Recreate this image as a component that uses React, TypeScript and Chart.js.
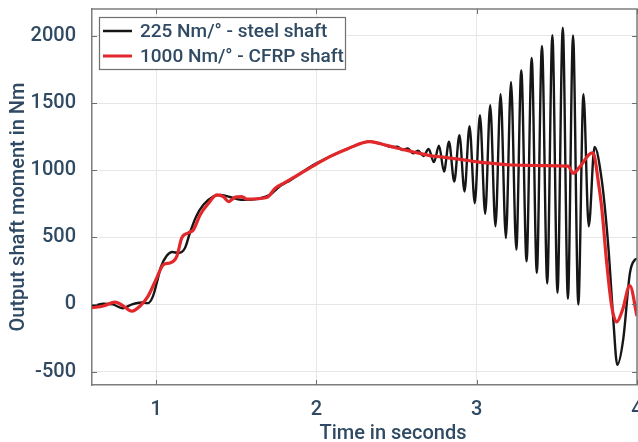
import React, { useEffect, useRef } from "react";
import { Chart, registerables } from "chart.js";

Chart.register(...registerables);

// ---- data (time in s, moment in Nm) ----
const steelT = [
  0.6, 0.67, 0.73, 0.79, 0.85, 0.91, 0.95, 0.98, 1.004, 1.03, 1.065, 1.1, 1.14, 1.18, 1.21, 1.25,
  1.295, 1.356, 1.4, 1.46, 1.53, 1.65, 1.71, 1.77, 1.84, 1.98, 2.1, 2.2, 2.33, 2.4, 2.47,
  2.505, 2.538, 2.57, 2.603, 2.634, 2.668, 2.7, 2.733, 2.765, 2.796, 2.827, 2.86, 2.892, 2.924,
  2.955, 2.988, 3.02, 3.053, 3.084, 3.117, 3.149, 3.182, 3.214, 3.247, 3.278, 3.311, 3.343,
  3.375, 3.407, 3.44, 3.472, 3.504, 3.537, 3.569, 3.601, 3.634, 3.666, 3.699, 3.735, 3.78,
  3.821, 3.852, 3.877, 3.914, 3.956, 3.988, 4.0,
];
const steelNm = [
  -15, 5, 0, -28, 0, 14, 10, 60, 160, 280, 360, 390, 383, 420, 530, 655,
  742, 803, 816, 800, 780, 791, 816, 878, 927, 1038, 1110, 1162, 1212, 1197, 1172,
  1175, 1150, 1162, 1125, 1145, 1105, 1157, 1060, 1182, 989, 1211, 915, 1261, 841,
  1328, 754, 1409, 675, 1484, 581, 1565, 495, 1656, 408, 1743, 321, 1835,
  235, 1924, 156, 2005, 87, 2060, 42, 2003, 0, 1565, 581, 1172, 927,
  432, -111, -450, -260, 235, 334, 340,
];
const cfrpT = [
  0.6, 0.67, 0.744, 0.796, 0.848, 0.9, 0.95, 1.004, 1.046, 1.087, 1.129, 1.16, 1.2, 1.233, 1.275,
  1.327, 1.379, 1.42, 1.452, 1.494, 1.535, 1.566, 1.69, 1.743, 1.8, 1.9, 2.0, 2.1, 2.2, 2.33,
  2.4, 2.5, 2.6, 2.7, 2.8, 2.9, 3.0, 3.1, 3.2, 3.3, 3.4, 3.5, 3.57, 3.603, 3.64, 3.72, 3.735,
  3.76, 3.78, 3.811, 3.842, 3.873, 3.91, 3.955, 4.0,
];
const cfrpNm = [
  -25, -12, 17, -12, -50, -12, 62, 198, 297, 309, 358, 495, 532, 556, 668,
  754, 816, 803, 766, 799, 803, 784, 796, 865, 905, 975, 1045, 1110, 1162, 1212,
  1197, 1165, 1137, 1110, 1095, 1080, 1062, 1050, 1040, 1036, 1034, 1032, 1030, 977, 1020, 1128, 1100,
  900, 720, 309, -12, -131, -40, 141, -87,
];
const seriesLabels = ["225 Nm/° - steel shaft", "1000 Nm/° - CFRP shaft"];
const seriesColors = ["#161616", "#e3282b"];
const xTicks = [1, 2, 3, 4];
const yTicks = [-500, 0, 500, 1000, 1500, 2000];
const xTitle = "Time in seconds";
const yTitle = "Output shaft moment in Nm";

const TEXT = "#2f4a62";
const FONT = "Roboto, 'DejaVu Sans', sans-serif";

const framePlugin = {
  id: "frame",
  afterDatasetsDraw(chart: any) {
    const { ctx, chartArea: a, scales } = chart;
    ctx.save();
    // top + right border
    ctx.strokeStyle = "#7d7d7d";
    ctx.lineWidth = 1.5;
    ctx.beginPath();
    ctx.moveTo(a.left, a.top);
    ctx.lineTo(a.right, a.top);
    ctx.lineTo(a.right, a.bottom);
    ctx.stroke();
    // inward ticks
    ctx.lineWidth = 1;
    ctx.strokeStyle = "#6d6d6d";
    ctx.beginPath();
    for (const v of xTicks) {
      const px = Math.round(scales.x.getPixelForValue(v)) + 0.5;
      ctx.moveTo(px, a.bottom);
      ctx.lineTo(px, a.bottom - 5);
      ctx.moveTo(px, a.top);
      ctx.lineTo(px, a.top + 5);
    }
    for (const v of yTicks) {
      const py = Math.round(scales.y.getPixelForValue(v)) + 0.5;
      ctx.moveTo(a.left, py);
      ctx.lineTo(a.left + 5, py);
      ctx.moveTo(a.right, py);
      ctx.lineTo(a.right - 5, py);
    }
    ctx.stroke();

    // legend
    const bx = 99, by = 17, bw = 246, bh = 52;
    ctx.fillStyle = "#ffffff";
    ctx.fillRect(bx, by, bw, bh);
    ctx.strokeStyle = "#6f6f6f";
    ctx.lineWidth = 1.2;
    ctx.strokeRect(bx + 0.5, by + 0.5, bw, bh);
    chart.data.datasets.forEach((ds: any, i: number) => {
      const cy = by + 14 + i * 25;
      ctx.strokeStyle = ds.borderColor;
      ctx.lineWidth = i === 0 ? 2.5 : 3;
      ctx.beginPath();
      ctx.moveTo(bx + 4, cy);
      ctx.lineTo(bx + 33, cy);
      ctx.stroke();
      ctx.fillStyle = TEXT;
      ctx.font = `500 19px ${FONT}`;
      ctx.textBaseline = "middle";
      ctx.textAlign = "left";
      ctx.fillText(ds.label, bx + 41, cy + 1);
    });
    ctx.restore();
  },
  afterDraw(chart: any) {
    const { ctx } = chart;
    ctx.save();
    ctx.fillStyle = TEXT;
    ctx.font = `500 20px ${FONT}`;
    ctx.textAlign = "center";
    ctx.textBaseline = "alphabetic";
    ctx.fillText(xTitle, 393, 439);
    ctx.translate(19, 207);
    ctx.rotate(-Math.PI / 2);
    ctx.textBaseline = "middle";
    ctx.font = `500 20px ${FONT}`;
    ctx.fillText(yTitle, 0, 0);
    ctx.restore();
  },
};

export default function App() {
  const ref = useRef<HTMLCanvasElement>(null);
  useEffect(() => {
    if (!ref.current) return;
    const chart = new Chart(ref.current, {
      type: "line",
      data: {
        datasets: [
          {
            label: seriesLabels[0],
            data: steelT.map((t, i) => ({ x: t, y: steelNm[i] })),
            borderColor: seriesColors[0],
            borderWidth: 2.4,
            pointRadius: 0,
            cubicInterpolationMode: "monotone",
            order: 2,
          },
          {
            label: seriesLabels[1],
            data: cfrpT.map((t, i) => ({ x: t, y: cfrpNm[i] })),
            borderColor: seriesColors[1],
            borderWidth: 3.2,
            pointRadius: 0,
            cubicInterpolationMode: "monotone",
            order: 1,
          },
        ],
      },
      options: {
        animation: false,
        responsive: false,
        devicePixelRatio: 1,
        layout: { padding: { top: 9, right: 1, left: 0, bottom: 0 } },
        plugins: { legend: { display: false }, tooltip: { enabled: false } },
        scales: {
          x: {
            type: "linear",
            min: 0.6,
            max: 4,
            afterBuildTicks: (s: any) => {
              s.ticks = xTicks.map((v) => ({ value: v }));
            },
            afterFit: (s: any) => {
              s.height = 57;
              s.paddingLeft = 0;
              s.paddingRight = 0;
            },
            grid: { color: "#e6e6e6", lineWidth: 1, drawTicks: false },
            border: { display: true, color: "#7d7d7d", width: 1.5 },
            ticks: {
              color: TEXT,
              font: { family: FONT, size: 20, weight: "500" },
              padding: 13,
              maxRotation: 0,
              autoSkip: false,
              callback: (v: any) => String(v),
            },
          },
          y: {
            type: "linear",
            min: -600,
            max: 2200,
            afterBuildTicks: (s: any) => {
              s.ticks = yTicks.map((v) => ({ value: v }));
            },
            afterFit: (s: any) => {
              s.width = 92;
              s.paddingTop = 0;
              s.paddingBottom = 0;
            },
            grid: { color: "#e6e6e6", lineWidth: 1, drawTicks: false },
            border: { display: true, color: "#7d7d7d", width: 1.5 },
            ticks: {
              color: TEXT,
              font: { family: FONT, size: 20, weight: "500" },
              padding: 16,
              autoSkip: false,
              callback: (v: any) => String(v),
            },
          },
        },
      },
      plugins: [framePlugin],
    } as any);
    return () => chart.destroy();
  }, []);
  return (
    <div style={{ position: "absolute", left: 0, top: 0, width: 638, height: 442, background: "#fff" }}>
      <canvas ref={ref} width={638} height={442} />
    </div>
  );
}
